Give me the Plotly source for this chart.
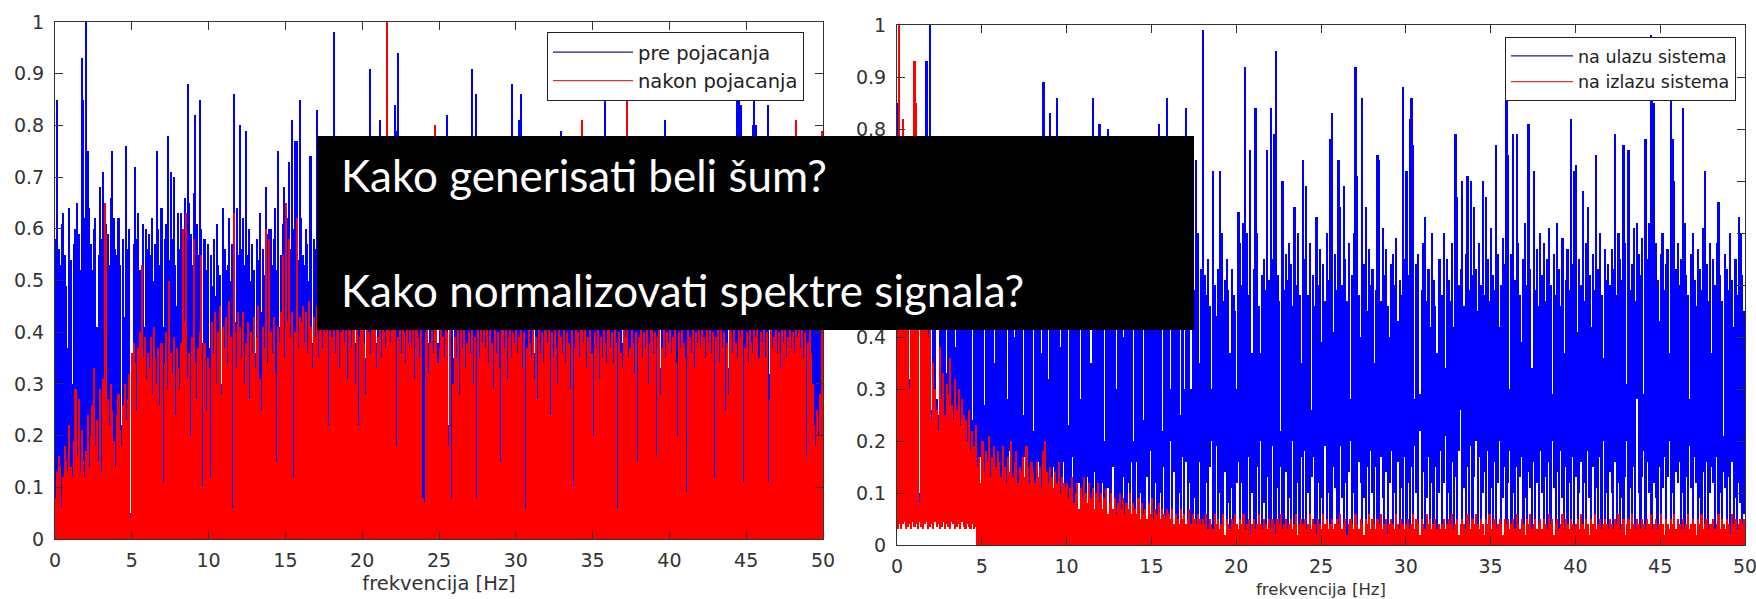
import plotly.graph_objects as go

# ---------------- data (per 0.1 Hz frequency bin) ----------------
N_BINS = 500
BIN_HZ = 0.1
freq = [round(BIN_HZ * (i + 0.5), 3) for i in range(N_BINS)]

# left panel: "pre pojacanja" (blue) column peaks
pre_pojacanja = [
0.58,0.85,0.56,0.53,0.61,0.63,0.55,0.49,0.37,0.64,0.54,0.30,0.57,0.60,0.65,0.59,0.52,0.93,0.85,0.62,
1.00,0.75,0.64,0.57,0.52,0.60,0.62,0.41,0.55,0.68,0.58,0.71,0.55,0.61,0.59,0.53,0.66,0.75,0.62,0.56,
0.55,0.62,0.53,0.22,0.58,0.43,0.76,0.56,0.60,0.05,0.33,0.57,0.72,0.58,0.63,0.52,0.50,0.61,0.41,0.60,
0.56,0.59,0.55,0.62,0.50,0.57,0.75,0.60,0.53,0.64,0.41,0.58,0.61,0.78,0.54,0.71,0.58,0.70,0.53,0.45,
0.63,0.56,0.63,0.58,0.66,0.55,0.88,0.65,0.59,0.53,0.67,0.82,0.61,0.55,0.85,0.60,0.38,0.58,0.52,0.57,
0.37,0.55,0.49,0.58,0.47,0.61,0.53,0.51,0.30,0.64,0.56,0.52,0.53,0.62,0.50,0.57,0.86,0.42,0.64,0.55,
0.80,0.56,0.62,0.53,0.79,0.55,0.60,0.50,0.57,0.52,0.36,0.58,0.54,0.63,0.44,0.56,0.51,0.68,0.59,0.60,
0.60,0.53,0.58,0.64,0.52,0.75,0.41,0.55,0.61,0.68,0.57,0.62,0.73,0.56,0.81,0.60,0.77,0.77,0.54,0.85,
0.62,0.55,0.53,0.60,0.57,0.50,0.74,0.38,0.58,0.56,0.83,0.47,0.60,0.51,0.44,0.58,0.78,0.49,0.42,0.55,
0.50,0.98,0.56,0.47,0.62,0.45,0.53,0.68,0.48,0.44,0.57,0.51,0.64,0.46,0.49,0.38,0.55,0.60,0.43,0.52,
0.58,0.47,0.35,0.53,0.62,0.91,0.49,0.55,0.45,0.38,0.66,0.81,0.50,0.44,0.57,0.48,0.61,0.52,0.46,0.70,
0.55,0.84,0.79,0.94,0.50,0.46,0.59,0.43,0.52,0.65,0.48,0.54,0.41,0.60,0.47,0.56,0.50,0.72,0.45,0.53,
0.49,0.58,0.62,0.38,0.51,0.47,0.66,0.55,0.44,0.38,0.42,0.60,0.48,0.53,0.69,0.82,0.22,0.50,0.57,0.35,
0.52,0.61,0.46,0.55,0.70,0.48,0.57,0.63,0.43,0.50,0.58,0.91,0.47,0.54,0.86,0.49,0.62,0.45,0.56,0.51,
0.60,0.46,0.53,0.67,0.49,0.44,0.58,0.52,0.71,0.47,0.55,0.50,0.63,0.45,0.57,0.48,0.54,0.88,0.51,0.59,
0.47,0.56,0.81,0.86,0.52,0.45,0.61,0.49,0.58,0.42,0.54,0.66,0.36,0.50,0.59,0.47,0.53,0.64,0.48,0.55,
0.51,0.62,0.46,0.57,0.49,0.68,0.53,0.45,0.60,0.79,0.48,0.55,0.63,0.50,0.44,0.58,0.52,0.66,0.47,0.56,
0.53,0.49,0.61,0.46,0.57,0.52,0.70,0.48,0.55,0.62,0.45,0.58,0.51,0.64,0.47,0.56,0.50,0.59,0.90,0.54,
0.48,0.57,0.63,0.50,0.55,0.46,0.60,0.52,0.67,0.38,0.54,0.49,0.58,0.61,0.42,0.53,0.47,0.65,0.51,0.56,
0.59,0.48,0.54,0.62,0.47,0.57,0.51,0.69,0.46,0.55,0.60,0.50,0.53,0.64,0.33,0.56,0.49,0.81,0.58,0.52,
0.55,0.47,0.61,0.50,0.58,0.45,0.66,0.53,0.49,0.57,0.62,0.48,0.54,0.70,0.46,0.59,0.51,0.56,0.63,0.49,
0.53,0.60,0.78,0.48,0.55,0.64,0.50,0.57,0.46,0.61,0.52,0.68,0.49,0.56,0.59,0.47,0.54,0.62,0.33,0.58,
0.51,0.63,0.57,0.69,0.86,0.98,0.84,0.55,0.48,0.60,0.53,0.66,0.50,0.58,0.80,0.86,0.80,0.62,0.54,0.59,
0.49,0.57,0.64,0.52,0.84,0.32,0.56,0.61,0.47,0.55,0.68,0.51,0.58,0.46,0.63,0.53,0.60,0.49,0.57,0.65,
0.54,0.50,0.62,0.58,0.47,0.66,0.53,0.59,0.51,0.64,0.56,0.48,0.60,0.55,0.69,0.52,0.58,0.63,0.57,0.61,
]

# left panel: "nakon pojacanja" (red) column peaks
nakon_pojacanja = [
0.08,0.13,0.16,0.14,0.06,0.12,0.18,0.15,0.13,0.22,0.14,0.12,0.19,0.29,0.16,0.27,0.13,0.21,0.15,0.12,
0.17,0.24,0.14,0.20,0.26,0.33,0.18,0.23,0.15,0.29,0.13,0.31,0.65,0.59,0.27,0.22,0.30,0.25,0.19,0.14,
0.24,0.28,0.21,0.18,0.26,0.30,0.23,0.27,0.32,0.04,0.36,0.38,0.34,0.25,0.37,0.40,0.53,0.35,0.39,0.31,
0.36,0.33,0.39,0.28,0.41,0.35,0.30,0.37,0.26,0.38,0.11,0.34,0.40,0.29,0.50,0.36,0.32,0.39,0.24,0.37,
0.33,0.29,0.38,0.60,0.42,0.63,0.31,0.36,0.20,0.39,0.58,0.34,0.27,0.37,0.40,0.55,0.10,0.38,0.25,0.35,
0.33,0.12,0.42,0.36,0.44,0.30,0.40,0.45,0.28,0.41,0.37,0.43,0.34,0.46,0.39,0.06,0.63,0.40,0.33,0.44,
0.41,0.35,0.44,0.30,0.38,0.42,0.27,0.40,0.36,0.43,0.33,0.39,0.45,0.31,0.25,0.41,0.37,0.60,0.34,0.58,
0.40,0.36,0.43,0.32,0.15,0.41,0.38,0.44,0.55,0.35,0.65,0.42,0.58,0.39,0.44,0.12,0.40,0.62,0.37,0.43,
0.42,0.45,0.38,0.44,0.36,0.46,0.41,0.33,0.43,0.39,0.45,0.35,0.42,0.47,0.37,0.44,0.40,0.46,0.22,0.41,
0.39,0.44,0.36,0.42,0.47,0.33,0.40,0.45,0.38,0.43,0.31,0.46,0.41,0.37,0.44,0.30,0.42,0.22,0.39,0.45,
0.43,0.38,0.28,0.45,0.40,0.36,0.44,0.41,0.47,0.33,0.39,0.42,0.35,0.46,0.40,0.37,1.00,0.43,0.38,0.44,
0.41,0.45,0.18,0.39,0.43,0.36,0.44,0.40,0.34,0.46,0.38,0.42,0.37,0.45,0.31,0.43,0.39,0.35,0.42,0.08,
0.07,0.40,0.44,0.32,0.38,0.42,0.36,0.80,0.41,0.34,0.37,0.43,0.39,0.35,0.44,0.40,0.18,0.42,0.08,0.30,
0.39,0.35,0.42,0.28,0.41,0.37,0.44,0.33,0.38,0.40,0.36,0.43,0.30,0.39,0.08,0.42,0.35,0.41,0.38,0.44,
0.37,0.41,0.34,0.43,0.38,0.29,0.42,0.36,0.40,0.33,0.15,0.41,0.37,0.44,0.31,0.39,0.42,0.35,0.40,0.38,
0.42,0.36,0.39,0.41,0.33,0.40,0.06,0.37,0.43,0.38,0.35,0.41,0.31,0.39,0.27,0.42,0.36,0.40,0.34,0.41,
0.38,0.42,0.24,0.40,0.35,0.41,0.37,0.30,0.43,0.39,0.36,0.42,0.34,0.40,0.38,0.29,0.41,0.10,0.37,0.42,
0.40,0.35,0.42,0.81,0.38,0.41,0.33,0.39,0.43,0.36,0.20,0.40,0.37,0.42,0.31,0.39,0.35,0.41,0.38,0.34,
0.41,0.37,0.40,0.34,0.42,0.38,0.06,0.40,0.36,0.33,0.41,0.39,0.90,0.35,0.37,0.42,0.38,0.32,0.40,0.15,
0.39,0.42,0.35,0.40,0.37,0.41,0.30,0.38,0.43,0.36,0.40,0.16,0.39,0.41,0.28,0.37,0.42,0.35,0.40,0.38,
0.41,0.36,0.39,0.42,0.34,0.20,0.40,0.37,0.43,0.38,0.35,0.09,0.41,0.39,0.36,0.42,0.33,0.40,0.38,0.41,
0.37,0.42,0.39,0.35,0.41,0.38,0.43,0.36,0.40,0.12,0.39,0.42,0.34,0.41,0.37,0.40,0.25,0.38,0.28,0.42,
0.40,0.36,0.42,0.38,0.35,0.41,0.39,0.43,0.11,0.37,0.40,0.34,0.42,0.38,0.36,0.41,0.39,0.43,0.35,0.40,
0.38,0.41,0.35,0.40,0.11,0.27,0.42,0.37,0.39,0.43,0.36,0.40,0.33,0.41,0.38,0.42,0.35,0.39,0.41,0.37,
0.40,0.36,0.81,0.39,0.42,0.37,0.41,0.35,0.40,0.16,0.38,0.42,0.36,0.30,0.22,0.18,0.25,0.20,0.28,0.79,
]

# right panel: "na ulazu sistema" (blue) column top / bottom
na_ulazu_top = [
0.85,0.55,0.62,0.48,0.70,0.52,0.58,0.32,0.66,0.50,0.60,0.47,0.55,0.10,0.49,0.57,0.53,0.93,0.61,1.00,
0.26,0.46,0.60,0.28,0.25,0.49,0.63,0.44,0.57,0.33,0.51,0.59,0.47,0.54,0.38,0.62,0.50,0.45,0.58,0.53,
0.56,0.48,0.61,0.50,0.24,0.57,0.46,0.64,0.52,0.44,0.59,0.27,0.53,0.49,0.62,0.47,0.55,0.35,0.60,0.51,
0.54,0.47,0.63,0.50,0.58,0.28,0.56,0.45,0.61,0.40,0.52,0.59,0.48,0.55,0.25,0.62,0.49,0.57,0.44,0.53,
0.22,0.55,0.48,0.60,0.51,0.37,0.89,0.53,0.46,0.32,0.83,0.57,0.50,0.62,0.86,0.49,0.38,0.56,0.52,0.45,
0.58,0.23,0.54,0.47,0.61,0.50,0.56,0.44,0.28,0.59,0.52,0.48,0.63,0.46,0.35,0.86,0.55,0.49,0.60,0.81,
0.53,0.47,0.20,0.58,0.80,0.51,0.45,0.62,0.49,0.30,0.56,0.52,0.46,0.40,0.59,0.48,0.54,0.61,0.44,0.20,
0.55,0.49,0.60,0.46,0.57,0.24,0.52,0.63,0.48,0.54,0.45,0.59,0.51,0.47,0.81,0.56,0.22,0.50,0.58,0.86,
0.52,0.30,0.57,0.48,0.61,0.45,0.54,0.25,0.59,0.30,0.84,0.50,0.47,0.30,0.56,0.49,0.74,0.60,0.35,0.53,
0.99,0.52,0.48,0.55,0.46,0.30,0.72,0.50,0.44,0.53,0.72,0.60,0.47,0.51,0.55,0.49,0.37,0.53,0.48,0.45,
0.30,0.64,0.58,0.50,0.62,0.92,0.60,0.48,0.76,0.37,0.53,0.84,0.60,0.46,0.37,0.52,0.55,0.49,0.76,0.51,
0.84,0.55,0.79,0.95,0.52,0.47,0.22,0.70,0.49,0.56,0.51,0.58,0.54,0.46,0.65,0.50,0.60,0.48,0.35,0.74,
0.55,0.69,0.48,0.58,0.26,0.52,0.46,0.63,0.50,0.57,0.39,0.54,0.47,0.60,0.51,0.78,0.83,0.41,0.56,0.49,
0.74,0.65,0.50,0.69,0.55,0.47,0.58,0.28,0.52,0.60,0.92,0.71,0.48,0.40,0.86,0.54,0.65,0.45,0.57,0.50,
0.53,0.35,0.49,0.75,0.74,0.47,0.61,0.52,0.57,0.46,0.40,0.54,0.56,0.50,0.59,0.43,0.51,0.48,0.88,0.55,
0.72,0.52,0.82,0.86,0.77,0.28,0.54,0.56,0.29,0.49,0.58,0.63,0.47,0.53,0.42,0.60,0.51,0.46,0.37,0.55,
0.55,0.48,0.60,0.34,0.55,0.51,0.47,0.58,0.42,0.79,0.67,0.50,0.53,0.70,0.46,0.56,0.71,0.49,0.70,0.52,
0.65,0.53,0.45,0.58,0.50,0.70,0.48,0.67,0.55,0.47,0.61,0.52,0.49,0.77,0.56,0.42,0.50,0.59,0.54,0.88,
0.75,0.30,0.56,0.79,0.51,0.79,0.58,0.48,0.39,0.55,0.62,0.50,0.81,0.53,0.34,0.72,0.49,0.57,0.46,0.60,
0.52,0.58,0.47,0.55,0.61,0.50,0.29,0.56,0.48,0.62,0.53,0.46,0.59,0.37,0.51,0.57,0.49,0.82,0.54,0.72,
0.73,0.41,0.55,0.50,0.68,0.47,0.58,0.65,0.52,0.42,0.56,0.49,0.75,0.53,0.60,0.48,0.36,0.57,0.51,0.54,
0.50,0.57,0.53,0.79,0.48,0.60,0.55,0.51,0.77,0.58,0.31,0.76,0.49,0.54,0.61,0.47,0.62,0.56,0.52,0.59,
0.29,0.78,0.55,0.62,0.98,0.90,0.85,0.58,0.51,0.43,0.56,0.60,0.49,0.54,0.57,0.37,0.86,0.78,0.70,0.53,
0.58,0.50,0.55,0.84,0.62,0.52,0.48,0.28,0.56,0.60,0.51,0.46,0.57,0.53,0.49,0.61,0.72,0.54,0.47,0.58,
0.37,0.55,0.50,0.58,0.66,0.52,0.47,0.21,0.56,0.53,0.49,0.60,0.51,0.42,0.55,0.48,0.63,0.60,0.52,0.45,
]
na_ulazu_bottom = [
0.05,0.05,0.06,0.05,0.05,0.06,0.05,0.05,0.06,0.05,0.05,0.06,0.05,0.05,0.05,0.06,0.05,0.05,0.06,0.05,
0.05,0.06,0.05,0.05,0.06,0.05,0.05,0.06,0.05,0.05,0.06,0.05,0.05,0.06,0.05,0.05,0.06,0.05,0.05,0.06,
0.05,0.05,0.06,0.05,0.05,0.06,0.05,0,0,0.17,0,0,0,0,0,0,0,0,0,0,
0,0,0,0,0,0,0.18,0,0,0,0,0,0,0,0,0.17,0,0,0,0,
0,0,0,0.16,0,0,0,0,0,0,0,0,0.15,0,0,0,0,0,0.16,0,
0,0,0,0.17,0,0,0,0.12,0,0,0,0,0.13,0,0,0,0.14,0,0,0,
0,0.12,0,0,0.11,0,0,0.15,0,0,0,0,0,0.13,0,0,0.12,0,0.16,0,
0,0.16,0,0.10,0,0,0,0.13,0,0.18,0,0,0.12,0,0,0.10,0,0.15,0,0,
0,0.20,0,0.14,0,0,0.10,0,0.17,0,0.16,0,0.12,0,0,0.09,0,0,0.16,0,
0,0,0.12,0,0.15,0.20,0,0,0.19,0,0.10,0,0,0.14,0,0.08,0,0.11,0,0,
0.12,0.16,0,0.12,0,0,0,0.17,0,0.10,0,0,0.15,0,0.20,0,0.08,0,0.13,0,
0,0.19,0,0,0.11,0,0.15,0,0,0.14,0,0.09,0,0.20,0,0,0.12,0,0.17,0,
0.18,0,0.10,0,0.13,0.17,0,0,0.12,0,0.09,0,0.19,0,0.10,0,0,0.15,0.11,0,
0,0.19,0.09,0,0.12,0,0.14,0.20,0,0.10,0,0,0.16,0.12,0,0.09,0,0.15,0,0.18,
0.10,0,0.15,0,0,0.17,0.09,0,0.14,0,0.12,0.18,0,0.10,0,0.16,0,0.11,0,0.17,
0,0.12,0,0.15,0,0.19,0.10,0,0.22,0,0.14,0,0.09,0.17,0,0.12,0,0.15,0,0.10,
0.18,0,0.12,0.21,0,0.10,0,0.16,0,0.13,0,0.18,0.26,0,0.11,0,0.15,0,0.19,0,
0.13,0.20,0,0.17,0,0.10,0.14,0,0.18,0,0.11,0,0.16,0,0.12,0.20,0,0.09,0.15,0,
0.12,0.18,0,0.10,0,0.15,0,0.13,0.17,0,0.09,0,0.14,0.11,0,0.16,0,0.12,0,0.18,
0.10,0,0.13,0,0.16,0,0.20,0.11,0,0.14,0,0.18,0.09,0,0.15,0,0.12,0,0.17,0,
0.13,0,0.10,0.16,0,0.12,0,0.18,0.09,0,0.15,0,0.11,0,0.17,0,0.20,0,0.10,0,
0.14,0.10,0,0.16,0,0.12,0,0.09,0,0.13,0.20,0,0.11,0,0.15,0,0.28,0.10,0,0.13,
0.18,0,0.16,0.10,0,0,0.12,0.09,0,0.15,0,0.11,0.17,0,0.13,0.20,0,0.10,0,0.14,
0.12,0.16,0,0.10,0,0.13,0,0.19,0.11,0,0.17,0.12,0,0.09,0,0.14,0,0.16,0,0.10,
0.15,0.12,0,0.17,0,0.10,0,0.14,0.11,0,0.13,0,0.16,0,0.09,0,0.12,0.08,0,0.06,
]

# right panel: "na izlazu sistema" (red) column top / bottom
na_izlazu_top = [
0.62,1.00,0.55,0.82,0.48,0.78,0.58,0.30,0.52,0.60,0.93,0.85,0.50,0.08,0.56,0.47,0.44,0.53,0.40,0.46,
0.24,0.35,0.30,0.26,0.22,0.38,0.28,0.33,0.25,0.31,0.29,0.36,0.27,0.24,0.32,0.26,0.30,0.23,0.28,0.25,
0.24,0.20,0.26,0.18,0.22,0.19,0.23,0.15,0.17,0.12,0.20,0.14,0.18,0.16,0.21,0.13,0.17,0.19,0.15,0.18,
0.16,0.13,0.19,0.15,0.12,0.17,0.14,0.20,0.13,0.16,0.18,0.12,0.15,0.14,0.17,0.13,0.19,0.15,0.12,0.16,
0.14,0.12,0.16,0.13,0.15,0.11,0.18,0.20,0.14,0.12,0.15,0.13,0.11,0.14,0.12,0.16,0.10,0.13,0.12,0.11,
0.12,0.09,0.11,0.13,0.08,0.10,0.12,0.07,0.11,0.09,0.13,0.10,0.08,0.12,0.09,0.11,0.07,0.10,0.12,0.08,
0.10,0.07,0.09,0.11,0.06,0.08,0.10,0.07,0.09,0.06,0.08,0.10,0.07,0.09,0.06,0.08,0.07,0.10,0.06,0.08,
0.07,0.06,0.09,0.05,0.08,0.06,0.07,0.05,0.08,0.06,0.09,0.05,0.07,0.06,0.08,0.05,0.07,0.06,0.05,0.07,
0.06,0.05,0.07,0.04,0.06,0.05,0.04,0.07,0.05,0.06,0.04,0.05,0.07,0.04,0.06,0.05,0.04,0.06,0.05,0.04,
0.05,0.04,0.06,0.03,0.05,0.04,0.03,0.06,0.04,0.05,0.03,0.04,0.06,0.02,0.05,0.04,0.03,0.05,0.04,0.06,
0.04,0.03,0.05,0.04,0.06,0.03,0.04,0.05,0.02,0.04,0.05,0.03,0.04,0.06,0.04,0.03,0.05,0.04,0.03,0.05,
0.03,0.05,0.04,0.02,0.05,0.04,0.06,0.03,0.04,0.05,0.03,0.04,0.05,0.03,0.04,0.06,0.02,0.04,0.05,0.04,
0.05,0.03,0.04,0.06,0.03,0.05,0.04,0.02,0.05,0.04,0.03,0.06,0.04,0.05,0.03,0.04,0.05,0.03,0.04,0.05,
0.04,0.06,0.03,0.04,0.05,0.02,0.04,0.05,0.04,0.03,0.06,0.04,0.03,0.05,0.04,0.02,0.05,0.04,0.06,0.03,
0.05,0.04,0.03,0.05,0.04,0.06,0.03,0.04,0.05,0.02,0.04,0.05,0.04,0.03,0.06,0.04,0.03,0.05,0.04,0.03,
0.04,0.05,0.03,0.04,0.06,0.03,0.05,0.04,0.02,0.05,0.04,0.03,0.06,0.04,0.05,0.03,0.04,0.05,0.03,0.04,
0.03,0.04,0.05,0.03,0.04,0.05,0.04,0.06,0.03,0.04,0.05,0.02,0.04,0.05,0.04,0.03,0.06,0.04,0.03,0.05,
0.04,0.06,0.04,0.03,0.05,0.04,0.02,0.05,0.04,0.06,0.03,0.04,0.05,0.03,0.04,0.05,0.04,0.02,0.05,0.04,
0.05,0.03,0.04,0.05,0.03,0.06,0.04,0.03,0.05,0.04,0.02,0.05,0.04,0.06,0.03,0.04,0.05,0.03,0.04,0.05,
0.03,0.05,0.04,0.03,0.06,0.04,0.05,0.02,0.04,0.05,0.03,0.04,0.06,0.03,0.05,0.04,0.03,0.05,0.04,0.03,
0.04,0.05,0.03,0.06,0.04,0.03,0.05,0.04,0.02,0.05,0.04,0.06,0.03,0.04,0.05,0.03,0.04,0.05,0.04,0.03,
0.05,0.04,0.03,0.05,0.04,0.06,0.03,0.04,0.05,0.02,0.04,0.05,0.03,0.06,0.04,0.03,0.05,0.04,0.03,0.05,
0.04,0.03,0.05,0.04,0.06,0.03,0.04,0.05,0.03,0.04,0.06,0.04,0.02,0.05,0.04,0.03,0.05,0.04,0.06,0.03,
0.05,0.04,0.03,0.05,0.03,0.04,0.06,0.03,0.04,0.05,0.04,0.02,0.05,0.04,0.06,0.03,0.04,0.05,0.03,0.04,
0.04,0.05,0.03,0.04,0.06,0.03,0.05,0.04,0.03,0.05,0.04,0.02,0.06,0.04,0.05,0.03,0.04,0.05,0.04,0.05,
]
na_izlazu_bottom = [
0.030,0.040,0.030,0.040,0.045,0.030,0.035,0.040,0.030,0.045,0.035,0.040,0.030,0.045,0.035,0.030,0.040,0.045,0.030,0.035,
0.040,0.030,0.045,0.035,0.040,0.030,0.035,0.045,0.030,0.040,0.035,0.030,0.045,0.040,0.030,0.035,0.040,0.030,0.045,0.035,
0.030,0.040,0.035,0.030,0.040,0.030,0.035,
] + [0.0] * 453

x_ticks = [0, 5, 10, 15, 20, 25, 30, 35, 40, 45, 50]
y_ticks = [0, 0.1, 0.2, 0.3, 0.4, 0.5, 0.6, 0.7, 0.8, 0.9, 1]
y_labels_left = ["0", "0.1", "0.2", "0.3", "0.4", "0.5", "0.6", "0.7", "0.8", "0.9", "1"]
# on the right panel the 0.5-0.7 labels sit under the black overlay box and are not visible
y_labels_right = ["0", "0.1", "0.2", "0.3", "0.4", "", "", "", "0.8", "0.9", "1"]
x_title = "frekvencija [Hz]"
overlay_lines = ["Kako generisati beli šum?", "Kako normalizovati spektre signala?"]

BLUE = "#0000ff"
RED = "#ff0000"

# ---------------- figure ----------------
fig = go.Figure()

fig.add_trace(go.Bar(x=freq, y=pre_pojacanja, width=BIN_HZ, marker=dict(color=BLUE, line=dict(width=0)),
                     name="pre pojacanja", showlegend=False, xaxis="x", yaxis="y"))
fig.add_trace(go.Bar(x=freq, y=nakon_pojacanja, width=BIN_HZ, marker=dict(color=RED, line=dict(width=0)),
                     name="nakon pojacanja", showlegend=False, xaxis="x", yaxis="y"))

rb_height = [t - b for t, b in zip(na_ulazu_top, na_ulazu_bottom)]
rr_height = [t - b for t, b in zip(na_izlazu_top, na_izlazu_bottom)]
fig.add_trace(go.Bar(x=freq, y=rb_height, base=na_ulazu_bottom, width=BIN_HZ,
                     marker=dict(color=BLUE, line=dict(width=0)),
                     name="na ulazu sistema", showlegend=False, xaxis="x2", yaxis="y2"))
fig.add_trace(go.Bar(x=freq, y=rr_height, base=na_izlazu_bottom, width=BIN_HZ,
                     marker=dict(color=RED, line=dict(width=0)),
                     name="na izlazu sistema", showlegend=False, xaxis="x2", yaxis="y2"))

# legend entries (line samples, as in the original)
for nm, col, ax, ay, lg in [("pre pojacanja", "#1c1c80", "x", "y", "legend"),
                            ("nakon pojacanja", "#e03535", "x", "y", "legend"),
                            ("na ulazu sistema", "#1c1c80", "x2", "y2", "legend2"),
                            ("na izlazu sistema", "#e03535", "x2", "y2", "legend2")]:
    fig.add_trace(go.Scatter(x=[None], y=[None], mode="lines", line=dict(color=col, width=1.2),
                             name=nm, xaxis=ax, yaxis=ay, legend=lg, showlegend=True))

W, H = 1756, 599
AX_COL = "#333333"
tick_font = dict(family="DejaVu Sans", size=19, color="#333333")

def xax(domain, title_size, standoff):
    return dict(domain=domain, range=[0, 50], tickvals=x_ticks, ticks="inside", ticklen=8,
                tickcolor=AX_COL, showline=True, linecolor=AX_COL, linewidth=1, mirror="ticks",
                showgrid=False, zeroline=False, tickfont=tick_font, ticklabelstandoff=4,
                ticklabeloverflow="allow", automargin=False,
                title=dict(text=x_title, font=dict(family="DejaVu Sans", size=title_size, color="#333333"),
                           standoff=standoff), fixedrange=True)

def yax(domain, anchor, labels):
    return dict(domain=domain, range=[0, 1], tickvals=y_ticks, ticktext=labels, ticks="inside", ticklen=8,
                tickcolor=AX_COL, showline=True, linecolor=AX_COL, linewidth=1, mirror="ticks",
                showgrid=False, zeroline=False, tickfont=tick_font, ticklabelstandoff=6,
                ticklabeloverflow="allow", automargin=False, anchor=anchor, fixedrange=True)

fig.update_layout(
    width=W, height=H, autosize=False,
    margin=dict(l=0, r=0, t=0, b=0, autoexpand=False),
    paper_bgcolor="white", plot_bgcolor="white",
    barmode="overlay", bargap=0,
    xaxis=dict(**xax([55 / W, 823 / W], 19.5, 6), anchor="y"),
    yaxis=yax([60 / H, 577 / H], "x", y_labels_left),
    xaxis2=dict(**xax([897 / W, 1745 / W], 16.5, 8), anchor="y2"),
    yaxis2=yax([54 / H, 574 / H], "x2", y_labels_right),
    legend=dict(x=804 / W, xanchor="right", y=1 - 32 / H, yanchor="top",
                bgcolor="white", bordercolor="#222222", borderwidth=1,
                font=dict(family="DejaVu Sans", size=19.5, color="#222222"),
                itemwidth=80, tracegroupgap=0),
    legend2=dict(x=1736 / W, xanchor="right", y=1 - 37 / H, yanchor="top",
                 bgcolor="white", bordercolor="#222222", borderwidth=1,
                 font=dict(family="DejaVu Sans", size=17.5, color="#222222"),
                 itemwidth=62, tracegroupgap=0),
    shapes=[dict(type="rect", xref="paper", yref="paper",
                 x0=317 / W, x1=1194 / W, y0=1 - 330 / H, y1=1 - 136 / H,
                 fillcolor="black", line=dict(width=0), layer="above")],
    annotations=[
        dict(text=overlay_lines[0], xref="paper", yref="paper", x=339 / W, y=1 - 175 / H,
             xanchor="left", yanchor="middle", showarrow=False,
             font=dict(family="Lato", size=44, color="white")),
        dict(text=overlay_lines[1], xref="paper", yref="paper", x=339 / W, y=1 - 290 / H,
             xanchor="left", yanchor="middle", showarrow=False,
             font=dict(family="Lato", size=44, color="white")),
    ],
)

fig.write_html("out.html", config={"displayModeBar": False},
               post_script="document.body.style.margin='0';document.body.style.padding='0';")
